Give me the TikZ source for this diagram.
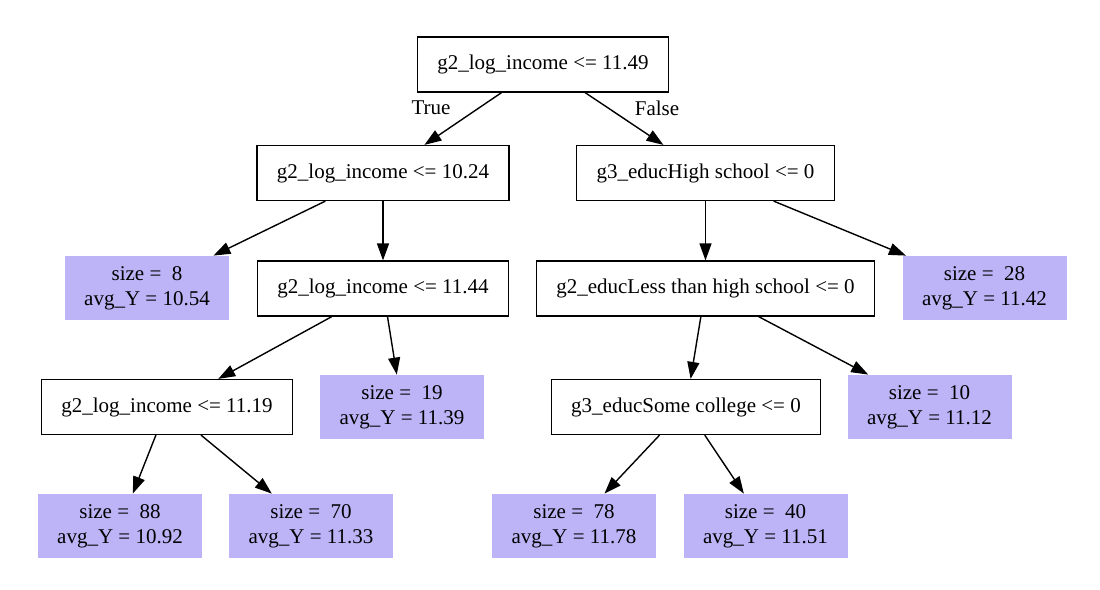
\documentclass[tikz,border=0pt]{standalone}
\usepackage{fontspec}
\setmainfont{Liberation Serif}
\usetikzlibrary{arrows.meta}
\definecolor{leafblue}{RGB}{189,180,248}
\tikzset{
  splitbox/.style={draw, line width=0.6pt, inner xsep=10pt, minimum height=27.5pt},
  leafbox/.style={fill=leafblue, minimum width=82pt, minimum height=32pt, align=center},
  branch/.style={-{Triangle[length=8.5pt,width=6pt]}, line width=0.7pt},
}

\begin{document}
\begin{tikzpicture}[x=0.5pt,y=-0.5pt,font=\fontsize{10.5}{12.5}\selectfont]
        \useasboundingbox (0,0) rectangle (1100,590);
        \node [splitbox] (root) at (543,64.5) {g2\_log\_income <= 11.49};
        \node [splitbox] (s1) at (383,173) {g2\_log\_income <= 10.24};
        \node [splitbox] (s2) at (705.5,173) {g3\_educHigh school <= 0};
        \node [splitbox] (s3) at (383,288.5) {g2\_log\_income <= 11.44};
        \node [splitbox] (s4) at (705.5,288.5) {g2\_educLess than high school <= 0};
        \node [splitbox] (s5) at (167,407) {g2\_log\_income <= 11.19};
        \node [splitbox] (s6) at (686,407) {g3\_educSome college <= 0};
        \node [leafbox] (l8)  at (147,288)   {size = \ 8\\avg\_Y = 10.54};
        \node [leafbox] (l28) at (984.5,288) {size = \ 28\\avg\_Y = 11.42};
        \node [leafbox] (l19) at (402,407)   {size = \ 19\\avg\_Y = 11.39};
        \node [leafbox] (l10) at (929.5,407) {size = \ 10\\avg\_Y = 11.12};
        \node [leafbox] (l88) at (120,526)   {size = \ 88\\avg\_Y = 10.92};
        \node [leafbox] (l70) at (311,526)   {size = \ 70\\avg\_Y = 11.33};
        \node [leafbox] (l78) at (574,526)   {size = \ 78\\avg\_Y = 11.78};
        \node [leafbox] (l40) at (765.5,526) {size = \ 40\\avg\_Y = 11.51};
        \node (ltrue)  at (431,108) {True};
        \node (lfalse) at (657,108) {False};
        \draw [branch] (root)--(s1);
        \draw [branch] (root)--(s2);
        \draw [branch] (s1)--(l8);
        \draw [branch] (s1)--(s3);
        \draw [branch] (s2)--(s4);
        \draw [branch] (s2)--(l28);
        \draw [branch] (s3)--(s5);
        \draw [branch] (s3)--(l19);
        \draw [branch] (s4)--(s6);
        \draw [branch] (s4)--(l10);
        \draw [branch] (s5)--(l88);
        \draw [branch] (s5)--(l70);
        \draw [branch] (s6)--(l78);
        \draw [branch] (s6)--(l40);
      \end{tikzpicture}
\end{document}
